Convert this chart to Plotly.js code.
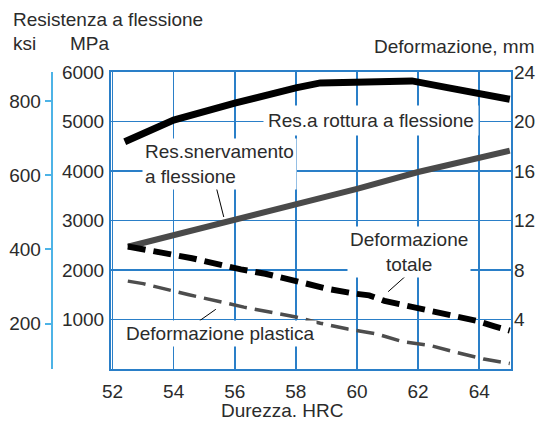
<!DOCTYPE html>
<html>
<head>
<meta charset="utf-8">
<script src="https://cdn.plot.ly/plotly-3.0.1.min.js"></script>
<style>html,body{margin:0;padding:0;background:#fff;}#chart{width:537px;height:421px;}</style>
</head>
<body>
<div id="chart"></div>
<script>
// ---- data ----
const hrcTicks = [52, 54, 56, 58, 60, 62, 64];
const mpaTicks = [1000, 2000, 3000, 4000, 5000, 6000];
const mmTicks = [4, 8, 12, 16, 20, 24];
const ksiTicks = [200, 400, 600, 800];

const hrcRottura = [52.4, 54, 56, 57, 58, 58.8, 60, 61.8, 63, 65];
const mpaRottura = [4590, 5030, 5370, 5530, 5680, 5780, 5810, 5820, 5680, 5450];

const hrcSnerv = [52.5, 56, 60, 62, 65];
const mpaSnerv = [2470, 3010, 3640, 3980, 4410];

const hrcTotale = [52.5, 53.7, 54.6, 56.2, 57.0, 58.1, 59.0, 59.9, 60.4, 60.9, 61.6, 62.5, 63.3, 63.9, 64.5, 65.0];
const mmTotale  = [9.9, 9.4, 8.95, 8.05, 7.7, 7.05, 6.5, 6.1, 5.95, 5.5, 5.15, 4.65, 4.18, 3.9, 3.45, 3.1];

const hrcPlastica = [52.5, 53.0, 54.5, 56.3, 58.0, 58.8, 59.7, 60.65, 61.5, 62.4, 63.2, 64.15, 65.0];
const mmPlastica  = [7.1, 6.9, 6.0, 5.0, 4.2, 3.7, 3.23, 2.83, 2.2, 1.9, 1.37, 0.8, 0.45];

// ---- style ----
const FONT = 'Liberation Sans, Arial, Helvetica, sans-serif';
const TXT = '#2b2b2b';
const GRID = '#2a7fc8';
const LIGHT = '#4db3e6';

const traces = [
  {x: hrcRottura, y: mpaRottura, mode: 'lines', line: {color: '#000', width: 7}, yaxis: 'y'},
  {x: hrcSnerv, y: mpaSnerv, mode: 'lines', line: {color: '#4a4a4a', width: 6}, yaxis: 'y'},
  {x: hrcTotale, y: mmTotale, mode: 'lines', line: {color: '#000', width: 6, dash: '18px,8px'}, yaxis: 'y2'},
  {x: hrcPlastica, y: mmPlastica, mode: 'lines', line: {color: '#4d4d4d', width: 3.5, dash: '18px,8px'}, yaxis: 'y2'},
  {x: [null], y: [null], mode: 'lines', yaxis: 'y3', showlegend: false}
];

const W = 537, ML = 40, MR = 26;
const plotW = W - ML - MR;
const px = v => (v - ML) / plotW;

const layout = {
  width: 537, height: 421,
  margin: {l: ML, r: MR, t: 72, b: 52, pad: 0},
  paper_bgcolor: '#fff', plot_bgcolor: '#fff',
  showlegend: false,
  font: {family: FONT, size: 19, color: TXT},
  xaxis: {
    domain: [px(111), 1],
    range: [51.95, 65.04],
    tickvals: hrcTicks,
    showgrid: true, gridcolor: GRID, gridwidth: 1.6,
    showline: true, linecolor: GRID, linewidth: 2, mirror: true,
    zeroline: false, ticks: '',
    ticklabelstandoff: 4,
    tickfont: {family: FONT, size: 19, color: TXT}
  },
  yaxis: {
    range: [0, 6000],
    tickvals: mpaTicks,
    showgrid: true, gridcolor: GRID, gridwidth: 1.6,
    showline: true, linecolor: GRID, linewidth: 2, mirror: true,
    zeroline: false, ticks: '',
    ticklabelstandoff: 1,
    tickfont: {family: FONT, size: 19, color: TXT}
  },
  yaxis2: {
    overlaying: 'y', side: 'right',
    range: [0, 24],
    tickvals: mmTicks,
    showgrid: false, zeroline: false, showline: false, ticks: '',
    ticklabelstandoff: 2,
    tickfont: {family: FONT, size: 19, color: TXT}
  },
  yaxis3: {
    overlaying: 'y', side: 'left', anchor: 'free', position: px(51.7),
    range: [78, 878],
    tickvals: ksiTicks,
    showgrid: false, zeroline: false,
    showline: true, linecolor: LIGHT, linewidth: 2,
    ticks: 'outside', ticklen: 6, tickwidth: 2, tickcolor: LIGHT,
    tickfont: {family: FONT, size: 19, color: TXT}
  },
  shapes: [
    {type: 'line', xref: 'x', yref: 'y', x0: 55.40, y0: 3657, x1: 55.64, y1: 3071, line: {color: '#000', width: 1}},
    {type: 'line', xref: 'x', yref: 'y', x0: 61.57, y0: 1865, x1: 61.02, y1: 1562, line: {color: '#000', width: 1}},
    {type: 'line', xref: 'x', yref: 'y', x0: 55.38, y0: 1206, x1: 54.85, y1: 976, line: {color: '#000', width: 1}}
  ],
  annotations: [
    {text: 'Resistenza a flessione', xref: 'paper', yref: 'paper', x: px(11), y: 1.176, xanchor: 'left', yanchor: 'middle', showarrow: false},
    {text: 'ksi', xref: 'paper', yref: 'paper', x: px(11), y: 1.097, xanchor: 'left', yanchor: 'middle', showarrow: false},
    {text: 'MPa', xref: 'paper', yref: 'paper', x: px(68), y: 1.097, xanchor: 'left', yanchor: 'middle', showarrow: false},
    {text: 'Deformazione, mm', xref: 'paper', yref: 'paper', x: px(537), y: 1.0865, xanchor: 'right', yanchor: 'middle', showarrow: false},
    {text: 'Durezza. HRC', xref: 'paper', yref: 'paper', x: px(281.5), y: -0.139, xanchor: 'center', yanchor: 'middle', showarrow: false, borderpad: 0},
    {text: 'Res.a rottura a flessione', xref: 'x', yref: 'y', x: 60.45, y: 5030, xanchor: 'center', yanchor: 'middle', showarrow: false, bgcolor: '#fff', borderpad: 4},
    {text: 'Res.snervamento<br>a flessione', xref: 'x', yref: 'y', x: 55.5, y: 4141, xanchor: 'center', yanchor: 'middle', align: 'left', showarrow: false, bgcolor: '#fff', borderpad: 2},
    {text: 'Deformazione<br>totale', xref: 'x', yref: 'y', x: 61.70, y: 2364, xanchor: 'center', yanchor: 'middle', align: 'center', showarrow: false, bgcolor: '#fff', borderpad: 2},
    {text: 'Deformazione plastica', xref: 'x', yref: 'y', x: 55.53, y: 721, xanchor: 'center', yanchor: 'middle', showarrow: false, bgcolor: '#fff', borderpad: 2}
  ]
};

Plotly.newPlot('chart', traces, layout, {displayModeBar: false, staticPlot: true});
</script>
</body>
</html>
